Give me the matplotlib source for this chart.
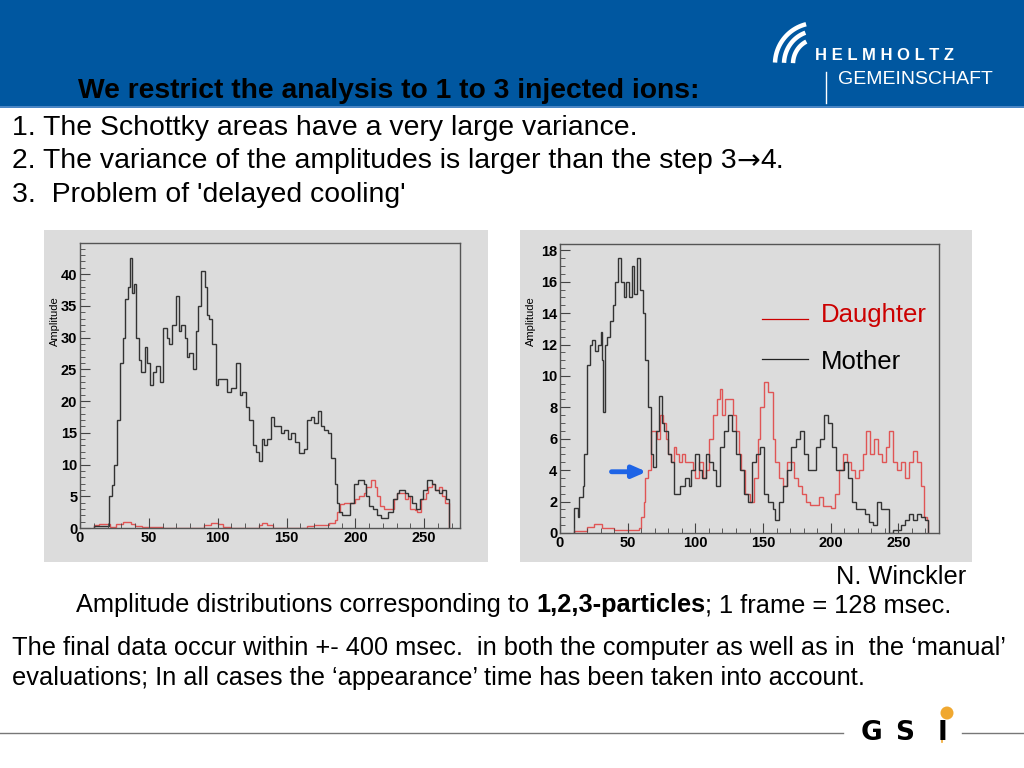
import matplotlib
matplotlib.use("Agg")
import matplotlib.pyplot as plt
import numpy as np
from matplotlib.patches import Rectangle, Ellipse
from matplotlib.ticker import MultipleLocator

# ---- histogram data: (bin left edge, amplitude) ----
mother_left = [
    (10, 0.3), (21, 5), (23, 6.8), (25, 10), (27, 17), (29, 26), (31, 30), (33, 36), (35, 38), (36.5, 42.5),
    (37.5, 37), (39, 38.5), (41, 30), (43, 26.5), (44.5, 24.5), (47, 28.5), (49, 26), (51, 22.5), (53, 24.5), (55, 25.5),
    (58, 23), (60, 31.5), (63, 30), (65, 29), (67, 32), (70, 36.5), (72, 31), (73.5, 32), (76, 30), (78, 27),
    (79.5, 27.5), (82, 25), (84, 31), (86, 35), (88, 40.5), (90.5, 38), (92.5, 33.5), (93.5, 33), (96, 29), (99, 22.5),
    (100.5, 23.5), (104, 23.5), (107, 21.5), (110, 22), (113, 26), (116, 21), (118, 21.5), (120.5, 19), (123, 17), (125.5, 13),
    (128, 12), (130, 10.5), (132, 14), (134, 13), (136, 14), (139, 17.5), (141, 16), (143.5, 16), (146, 15), (148.5, 15.5),
    (151, 14), (153, 15), (156, 13.5), (159, 11.8), (163, 12.5), (165, 17), (168, 17.5), (170, 16.5), (173, 18.5), (175, 16),
    (177.5, 15.5), (180, 15), (182, 11), (185, 7), (186.5, 4), (188, 2.5), (190, 2), (196, 4), (199, 7), (202, 7.5),
    (206, 7), (208, 5), (210, 3.5), (213, 3), (216, 2), (218.5, 1.5), (224, 2.5), (227, 4.5), (230, 5.5), (232, 6),
    (236, 5.5), (238, 5), (241, 4), (244, 3), (247, 4.5), (249, 6), (252, 7.5), (256, 7), (258, 6), (261, 5.5),
    (263, 6), (265.5, 4.5),
]
mother_left_end = 268

daughter_left = [
    (10, 0.5), (14, 0.7), (22, 0.2), (26, 0.7), (31, 1.0), (37, 0.6), (40, 0.3), (45, 0.1), (60, 0.05), (90, 0.5),
    (95, 0.8), (100, 0.6), (104, 0.2), (110, 0.05), (130, 0.4), (132, 0.8), (136, 0.4), (140, 0.05), (165, 0.3), (170, 0.5),
    (181, 0.8), (185, 1.2), (187, 2.5), (189, 3.8), (192, 4), (200, 4.5), (203, 5), (206, 5.5), (208, 6.5), (211, 7.5),
    (214, 6.5), (216, 5), (218, 3.5), (221, 3), (228, 4.5), (230, 5.5), (236, 4.5), (238, 5), (240, 3), (243, 2.8),
    (245, 2.5), (248, 4.5), (251, 5.5), (253, 6.5), (256, 7), (258, 6), (261, 6.5), (263, 5), (265, 4),
]
daughter_left_end = 268

mother_right = [
    (10, 1.6), (13, 1.0), (14, 2.3), (17, 3), (18, 5), (20, 10.7), (22, 12), (24, 12.3), (26, 11.6), (28, 12),
    (30, 12.8), (31, 11), (32, 7.7), (33, 12), (35, 12.5), (37, 13.5), (39, 14.5), (41, 16), (43, 17.5), (45, 16),
    (47, 15), (49, 16), (51, 15), (53, 17), (55, 15.2), (57, 17.5), (59, 15.5), (61, 14), (63, 11), (65, 8),
    (67, 5), (69, 4.2), (71, 6.5), (73, 8.7), (75, 7), (77, 6.5), (80, 5), (82, 4.5), (84, 2.5), (87, 2.5),
    (89, 3), (92, 3.5), (95, 3), (97, 4), (100, 5), (103, 4), (105, 3.5), (108, 5), (110, 4.5), (113, 4),
    (115, 3), (118, 5.5), (121, 6.5), (124, 7.5), (127, 6.5), (130, 5), (133, 4), (136, 2.5), (139, 2), (142, 4.5),
    (145, 5), (148, 5.5), (151, 2.5), (154, 2), (157, 1.5), (159, 0.8), (162, 2), (165, 3), (168, 4), (171, 5.5),
    (174, 6), (177, 6.5), (180, 5), (183, 4), (186, 4), (189, 5.5), (192, 6), (195, 7.5), (198, 7), (201, 5.5),
    (204, 4), (207, 4), (210, 4.5), (213, 3.5), (216, 2), (219, 1.5), (222, 1.5), (225, 1.2), (228, 0.7), (231, 0.5),
    (234, 2), (237, 1.5), (240, 1.5), (243, 0), (246, 0.2), (249, 0.2), (252, 0.5), (255, 0.8), (258, 1.2), (261, 0.8),
    (264, 1.2), (267, 1), (270, 0.8),
]
mother_right_end = 272

daughter_right = [
    (10, 0.1), (20, 0.4), (25, 0.6), (31, 0.3), (40, 0.2), (58, 0.3), (60, 1), (62, 2), (63, 3.5), (65, 4),
    (67, 6.5), (72, 6), (74, 7.5), (76, 7), (78, 6), (80, 5), (82, 4.5), (84, 5.5), (86, 5), (88, 4.5),
    (90, 5), (92, 4.5), (95, 4.5), (98, 4), (100, 3.5), (103, 4.5), (106, 3.5), (108, 4), (110, 6), (113, 7.5),
    (116, 8.5), (118, 9.2), (120, 7.5), (122, 8.5), (125, 8.5), (128, 7.5), (130, 6.5), (132, 5), (134, 4), (137, 2.5),
    (140, 2), (143, 3.5), (146, 6), (148, 8), (151, 9.6), (154, 9), (157, 6), (159, 4.5), (162, 3.5), (165, 3),
    (168, 4.5), (170, 4.5), (173, 3.5), (176, 3), (179, 2.5), (182, 2), (185, 1.8), (188, 1.8), (191, 2.3), (194, 1.7),
    (197, 1.7), (200, 1.6), (203, 2.5), (206, 4), (209, 5), (212, 4.5), (215, 4), (218, 3.5), (221, 4), (224, 5),
    (226, 6.5), (229, 5), (232, 6), (235, 5), (238, 4.5), (241, 5.5), (243, 6.5), (246, 4.5), (249, 4), (252, 4.5),
    (255, 3.5), (258, 4.5), (261, 5.2), (264, 4.5), (267, 3), (269, 1), (271, 0.8),
]
daughter_right_end = 272

bullet_1 = "1. The Schottky areas have a very large variance."
bullet_2 = [("2. The variance of the amplitudes is larger than the step 3", "Liberation Sans"),
            ("\u2192", "DejaVu Sans"), ("4.", "Liberation Sans")]
bullet_3 = "3.  Problem of 'delayed cooling'"
caption = [("Amplitude distributions corresponding to ", "normal"),
           ("1,2,3-particles", "bold"),
           ("; 1 frame = 128 msec.", "normal")]
footer_lines = [
    "The final data occur within +- 400 msec.  in both the computer as well as in  the \u2018manual\u2019",
    "evaluations; In all cases the \u2018appearance\u2019 time has been taken into account.",
]

W, H = 1024, 768
BLUE = "#0057a0"
PANEL = "#dcdcdc"
BLACK_LINE = "#333333"
RED_LINE = "#e05555"

plt.rcParams["font.family"] = ["Liberation Sans", "DejaVu Sans"]

fig = plt.figure(figsize=(W / 100, H / 100), dpi=100)
fig.patch.set_facecolor("white")


def fx(x):
    return x / W


def fy(y):
    return 1 - y / H


def px_rect(x0, y0, x1, y1, **kw):
    fig.patches.append(Rectangle((fx(x0), fy(y1)), (x1 - x0) / W, (y1 - y0) / H,
                                 transform=fig.transFigure, zorder=-5, **kw))


def px_line(xs, ys, **kw):
    fig.lines.append(plt.Line2D([fx(v) for v in xs], [fy(v) for v in ys],
                                transform=fig.transFigure, **kw))


# header band
px_rect(0, 0, W, 106, facecolor=BLUE, edgecolor="none")
px_rect(0, 106, W, 108, facecolor="#4a86c5", edgecolor="none")
fig.text(fx(78), fy(91), "We restrict the analysis to 1 to 3 injected ions:",
         fontsize=20.3, fontweight="bold", color="black", va="center", ha="left")

# Helmholtz logo: three curved white strokes
for r in (41, 32, 23):
    ang = np.radians(np.linspace(178, 104 + (41 - r) * 0.6, 30))
    xs = 816 + r * np.cos(ang)
    ys = 64 - r * np.sin(ang) * (1.0 + (41 - r) * 0.004)
    px_line(xs, ys, color="white", lw=3.2, solid_capstyle="butt")
fig.text(fx(815), fy(56), "H E L M H O L T Z", fontsize=12, fontweight="bold",
         color="white", va="center", ha="left")
fig.text(fx(838), fy(80), "GEMEINSCHAFT", fontsize=14, color="white",
         va="center", ha="left")
px_line([826, 826], [72, 103], color="white", lw=1)

fig.canvas.draw()
renderer = fig.canvas.get_renderer()

fig.text(fx(12), fy(128), bullet_1, fontsize=20.4, va="center", ha="left")
x = 12
for piece, fam in bullet_2:
    t = fig.text(fx(x), fy(161.5), piece, family=fam, fontsize=20.4, va="center", ha="left")
    x += t.get_window_extent(renderer).width
fig.text(fx(12), fy(195), bullet_3, fontsize=20.4, va="center", ha="left")

# grey panels behind the two ROOT canvases
px_rect(44, 230, 488, 562, facecolor=PANEL, edgecolor="none")
px_rect(520, 230, 972, 562, facecolor=PANEL, edgecolor="none")


def make_axes(x0, y0, x1, y1):
    ax = fig.add_axes([fx(x0), fy(y1), (x1 - x0) / W, (y1 - y0) / H])
    ax.set_facecolor(PANEL)
    for s in ax.spines.values():
        s.set_color("#555555")
        s.set_linewidth(1)
    ax.tick_params(which="both", direction="in", top=False, right=False, color="#444444",
                   labelsize=10.5, pad=2)
    ax.tick_params(which="major", length=7)
    ax.tick_params(which="minor", length=3.5)
    ax.xaxis.set_major_locator(MultipleLocator(50))
    ax.xaxis.set_minor_locator(MultipleLocator(10))
    return ax


def draw_hist(ax, pairs, end, color):
    edges = [p[0] for p in pairs] + [end]
    vals = [p[1] for p in pairs]
    ax.stairs(vals, edges, baseline=0, color=color, lw=1)


ax1 = make_axes(80, 243, 460, 528)
draw_hist(ax1, daughter_left, daughter_left_end, RED_LINE)
draw_hist(ax1, mother_left, mother_left_end, BLACK_LINE)
ax1.set_xlim(0, 276)
ax1.set_ylim(0, 44.9)
ax1.yaxis.set_major_locator(MultipleLocator(5))
ax1.yaxis.set_minor_locator(MultipleLocator(1))

ax2 = make_axes(560, 244, 939, 533)
draw_hist(ax2, daughter_right, daughter_right_end, RED_LINE)
draw_hist(ax2, mother_right, mother_right_end, BLACK_LINE)
ax2.set_xlim(0, 280)
ax2.set_ylim(0, 18.4)
ax2.yaxis.set_major_locator(MultipleLocator(2))
ax2.yaxis.set_minor_locator(MultipleLocator(0.5))

for ax in (ax1, ax2):
    for lab in ax.get_xticklabels() + ax.get_yticklabels():
        lab.set_fontweight("bold")

fig.text(fx(55), fy(321), "Amplitude", rotation=90, fontsize=8, va="center", ha="center")
fig.text(fx(531), fy(321), "Amplitude", rotation=90, fontsize=8, va="center", ha="center")

# legend and arrow on the right canvas
px_line([762, 808], [319, 319], color="#cc0000", lw=0.9)
px_line([762, 808], [359, 359], color="#222222", lw=0.9)
fig.text(fx(821), fy(315), "Daughter", fontsize=18.5, color="#cc0000", va="center", ha="left")
fig.text(fx(821), fy(362), "Mother", fontsize=18.5, color="black", va="center", ha="left")
ax2.annotate("", xy=(66, 3.9), xytext=(36, 3.9),
             arrowprops=dict(arrowstyle="-|>,head_length=0.8,head_width=0.35", color="#1e64e6", lw=3.5))

fig.text(fx(966), fy(577), "N. Winckler", fontsize=18.3, va="center", ha="right")

# caption with a bold middle part
x = 76
for piece, weight in caption:
    t = fig.text(fx(x), fy(605), piece, fontsize=18.3, fontweight=weight, va="center", ha="left")
    x += t.get_window_extent(renderer).width

for i, line in enumerate(footer_lines):
    fig.text(fx(12), fy(648 + 30 * i), line, fontsize=18.3, va="center", ha="left")

# bottom rule and GSI logo
px_line([0, 843], [733, 733], color="#777777", lw=1)
px_line([962, W], [733, 733], color="#777777", lw=1)
for letter, xc in (("G", 871), ("S", 905), ("I", 942)):
    fig.text(fx(xc), fy(733), letter, family="DejaVu Sans", fontsize=19, fontweight="heavy",
             va="center", ha="center")
px_line([942, 942], [724, 742], color="#f0a830", lw=1.2)
fig.patches.append(Ellipse((fx(947), fy(713)), 13 / W, 13 / H, transform=fig.transFigure,
                           facecolor="#f0a830", edgecolor="none"))

fig.savefig("out.png", dpi=100)
